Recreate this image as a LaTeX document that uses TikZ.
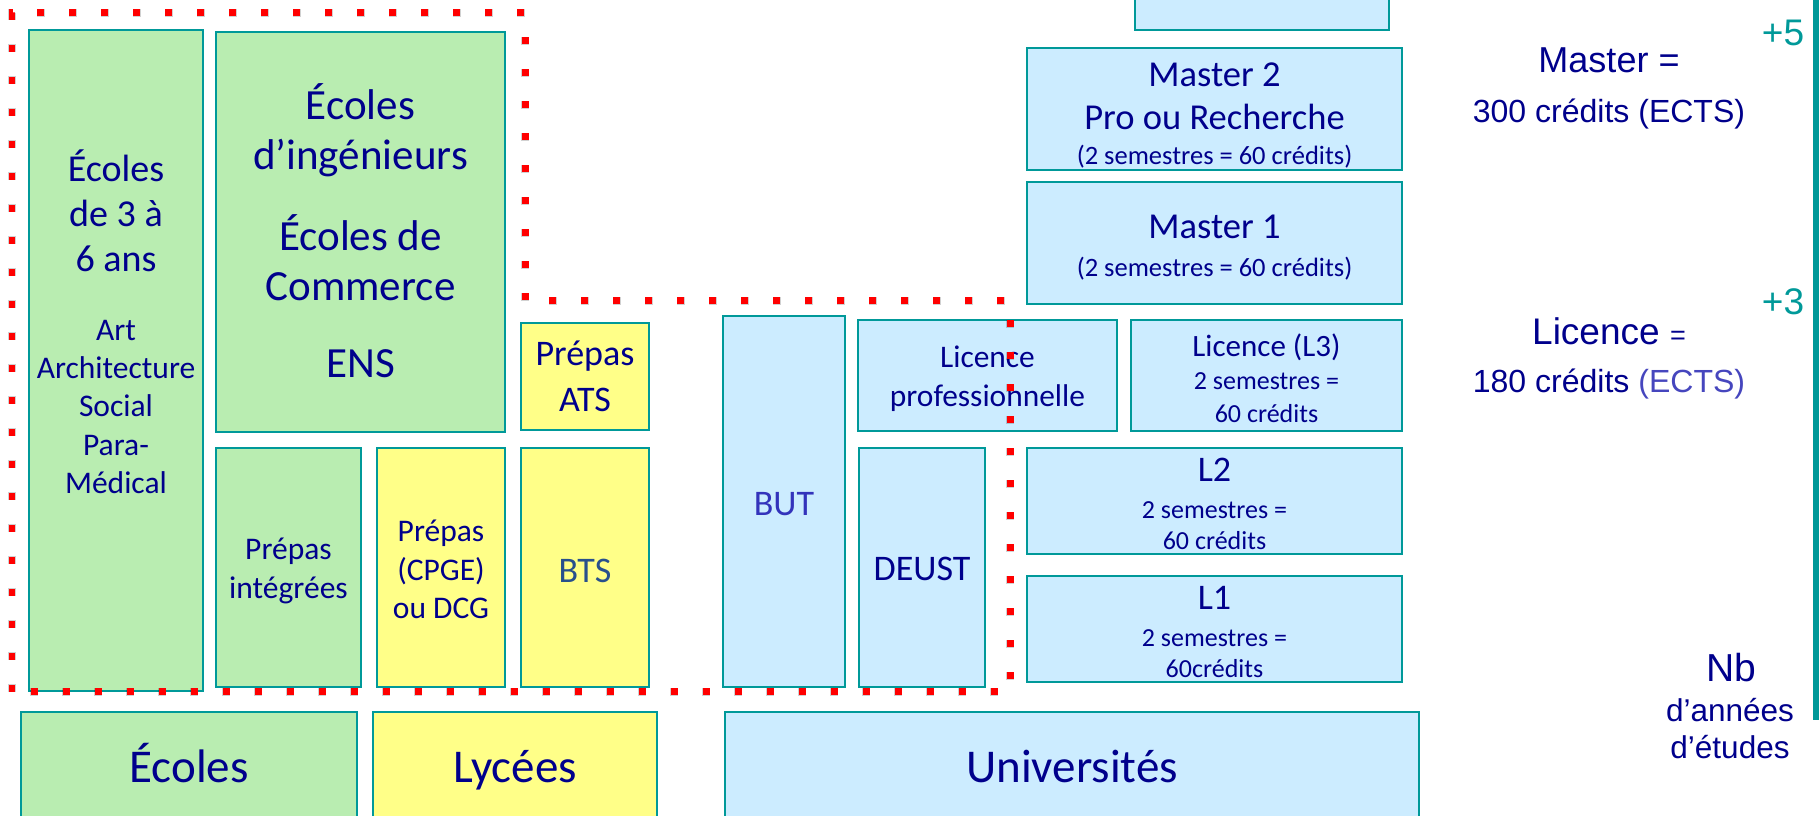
\documentclass[tikz,border=0pt]{standalone}
\usepackage{fontspec}
\setmainfont{Carlito}
\newfontfamily\arialf{Liberation Sans}
\usetikzlibrary{fit}
\newdimen\pxu \pxu=0.284528pt
\newcommand\fsz[2]{\fontsize{#1\pxu}{#2\pxu}\selectfont}
\definecolor{txtnavy}{RGB}{0,0,140}
\definecolor{butblue}{RGB}{51,51,187}
\definecolor{btsblue}{RGB}{40,80,140}
\definecolor{gfill}{RGB}{185,237,177}
\definecolor{yfill}{RGB}{255,255,136}
\definecolor{bfill}{RGB}{204,236,255}
\definecolor{tealc}{RGB}{0,153,153}
\definecolor{ectsblue}{RGB}{70,70,190}
\newcommand\mkbox[6]{\node[box, fill=#6, fit={(#2,#3) (#4,#5)}] (#1) {};}
\tikzset{
  box/.style={draw=tealc, line width=0.57pt, inner sep=0pt},
  txt/.style={inner sep=0pt, align=center, text=txtnavy},
  oneline/.style={text height=0.8em, text depth=0.16em},
  reddots/.style={draw=red, line width=1.99pt, dash pattern=on 1.99pt off 7.11pt},
  redshadow/.style={draw=black, opacity=0.18, line width=2.4pt, dash pattern=on 2.2pt off 6.9pt},
}
\begin{document}
\begin{tikzpicture}[x=0.01cm, y=-0.01cm]
\useasboundingbox[fill=white] (0,0) rectangle (1820,816);
% boxes
\mkbox{top}{1135}{-10}{1389}{30}{bfill}
\mkbox{m2}{1027}{48}{1402}{170}{bfill}
\mkbox{m1}{1027}{182}{1402}{304}{bfill}
\mkbox{lpro}{858}{320}{1117}{431}{bfill}
\mkbox{l3}{1131}{320}{1402}{431}{bfill}
\mkbox{l2}{1027}{448}{1402}{554}{bfill}
\mkbox{l1}{1027}{576}{1402}{682}{bfill}
\mkbox{but}{723}{316}{845}{687}{bfill}
\mkbox{deust}{859}{448}{985}{687}{bfill}
\mkbox{ec36}{29}{30}{203}{691}{gfill}
\mkbox{ecing}{216}{32}{505}{432}{gfill}
\mkbox{prepint}{216}{448}{361}{687}{gfill}
\mkbox{cpge}{377}{448}{505}{687}{yfill}
\mkbox{ats}{521}{323}{649}{430}{yfill}
\mkbox{bts}{521}{448}{649}{687}{yfill}
\mkbox{ecoles}{21}{712}{357}{840}{gfill}
\mkbox{lycees}{373}{712}{657}{840}{yfill}
\mkbox{univ}{725}{712}{1419}{840}{bfill}
% texts in boxes
\node[txt, font=\fsz{38}{45}] (ec36a) at (116,211) {Écoles\\de 3 à\\6 ans};
\node[txt, font=\fsz{31.5}{38}] (ec36b) at (116,407) {Art\\Architecture\\Social\\Para-\\Médical};
\node[txt, font=\fsz{43}{50}] (ecingt) at (360.5,230.5) {Écoles\\d’ingénieurs\\[8.9pt]Écoles de\\Commerce\\[7.68pt]ENS};
\node[txt, font=\fsz{31.5}{39}] (prepintt) at (288.5,570.5) {Prépas\\intégrées};
\node[txt, font=\fsz{31.5}{38.5}] (cpget) at (441,569.5) {Prépas\\(CPGE)\\ou DCG};
\node[txt, font=\fsz{36}{46}] (atst) at (585,376.5) {Prépas\\ATS};
\node[txt, oneline, text=btsblue, font=\fsz{36}{44}] (btst) at (585,571) {BTS};
\node[txt, oneline, text=butblue, font=\fsz{36}{44}] (butt) at (784,504) {BUT};
\node[txt, oneline, font=\fsz{36}{44}] (deustt) at (922,569) {DEUST};
\node[txt, font=\fsz{31.4}{39}] (lprot) at (987.5,378.5) {Licence\\professionnelle};
\node[txt, oneline, font=\fsz{31}{38}] (l3a) at (1266.5,345) {Licence (L3)};
\node[txt, font=\fsz{26}{33}] (l3b) at (1266.5,397.5) {2 semestres =\\60 crédits};
\node[txt, font=\fsz{36.5}{43}] (m2a) at (1214.5,96.5) {Master 2\\Pro ou Recherche};
\node[txt, oneline, font=\fsz{26.5}{32}] (m2b) at (1214.5,153) {(2 semestres = 60 crédits)};
\node[txt, oneline, font=\fsz{36.5}{43}] (m1a) at (1214.5,227) {Master 1};
\node[txt, oneline, font=\fsz{26.5}{32}] (m1b) at (1214.5,265) {(2 semestres = 60 crédits)};
\node[txt, oneline, font=\fsz{36}{43}] (l2a) at (1214.5,470) {L2};
\node[txt, font=\fsz{26}{31}] (l2b) at (1214.5,525.5) {2 semestres =\\60 crédits};
\node[txt, oneline, font=\fsz{36}{43}] (l1a) at (1214.5,598) {L1};
\node[txt, font=\fsz{26}{31}] (l1b) at (1214.5,654) {2 semestres =\\60crédits};
\node[txt, oneline, font=\fsz{47}{56}] (ecolest) at (189,771) {Écoles};
\node[txt, oneline, font=\fsz{47}{56}] (lyceest) at (515,771) {Lycées};
\node[txt, oneline, font=\fsz{47}{56}] (univt) at (1072,771) {Universités};
% right side
\coordinate (vtop) at (1816,0);
\coordinate (vbot) at (1816,720);
\draw[tealc, line width=1.5pt] (vtop) -- (vbot);
\node[txt, oneline, font=\arialf\fsz{37}{42}, text=tealc] (p5) at (1783,34) {+5};
\node[txt, oneline, font=\arialf\fsz{37}{42}, text=tealc] (p3) at (1783,303) {+3};
\node[txt, oneline, font=\arialf\fsz{36}{40}] (mast) at (1609,61) {Master =};
\node[txt, oneline, font=\arialf\fsz{32}{37}] (mastc) at (1609,111) {300 crédits (ECTS)};
\node[txt, oneline, font=\arialf\fsz{37}{42}] (lic) at (1609,333) {Licence {\fsz{27}{30}=}};
\node[txt, oneline, font=\arialf\fsz{32}{37}] (licc) at (1609,381) {180 crédits {\color{ectsblue}(ECTS)}};
\node[txt, oneline, font=\arialf\fsz{39}{44}] (nb) at (1731,670) {Nb};
\node[txt, font=\arialf\fsz{31.5}{37}] (nbb) at (1730,729) {d’années\\d’études};
% red dotted outline
\coordinate (r1) at (12,692);
\coordinate (r2) at (12,13);
\coordinate (r3) at (525,13);
\coordinate (r4) at (525,301);
\coordinate (r5) at (1010,301);
\coordinate (r6) at (1010,692);
\draw[redshadow, shift={(1.5,3)}] (r1) -- (r2) -- (r3) -- (r4) -- (r5) -- (r6) -- cycle;
\draw[reddots] (r1) -- (r2) -- (r3) -- (r4) -- (r5) -- (r6) -- cycle;
\end{tikzpicture}
\end{document}
